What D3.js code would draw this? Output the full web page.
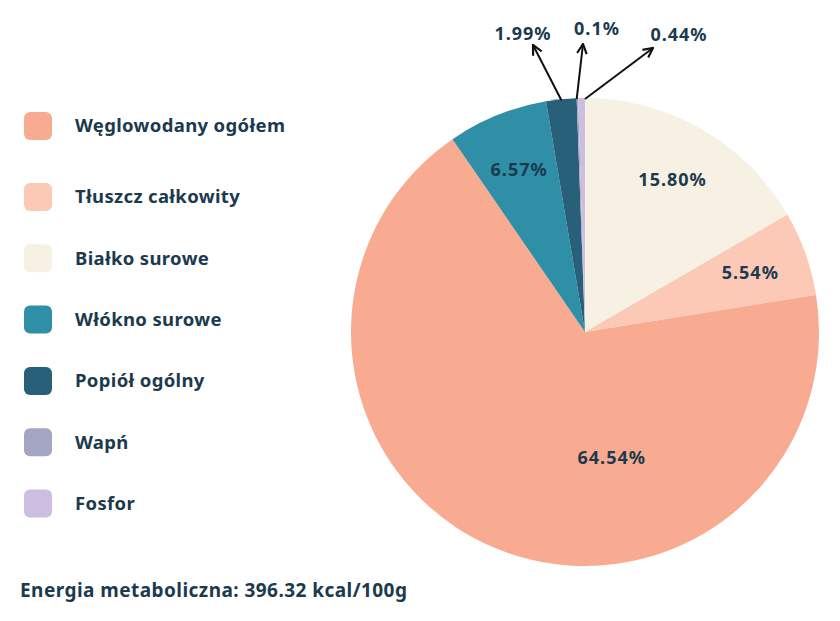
<!DOCTYPE html>
<html>
<head>
<meta charset="utf-8">
<script src="https://cdn.jsdelivr.net/npm/d3@7"></script>
<style>
  html, body { margin: 0; padding: 0; background: #fff; }
  svg { display: block; font-family: "Noto Sans", "Open Sans", sans-serif; }
</style>
</head>
<body>
<script>
// data
const categories = ["Białko surowe", "Tłuszcz całkowity", "Węglowodany ogółem", "Włókno surowe", "Popiół ogólny", "Wapń", "Fosfor"];
const values = [15.80, 5.54, 64.54, 6.57, 1.99, 0.1, 0.44];
const labels = ["15.80%", "5.54%", "64.54%", "6.57%", "1.99%", "0.1%", "0.44%"];
const colors = ["#F6F1E2", "#FCC9B6", "#F9AB91", "#2E8FA6", "#285F79", "#A3A5C3", "#CDBDE0"];
const legendOrder = ["Węglowodany ogółem", "Tłuszcz całkowity", "Białko surowe", "Włókno surowe", "Popiół ogólny", "Wapń", "Fosfor"];
const footer = "Energia metaboliczna: 396.32 kcal/100g";

const W = 840, H = 621;
const textColor = "#1B3A4E";
const svg = d3.select("body").append("svg").attr("width", W).attr("height", H);

svg.append("defs").append("marker")
    .attr("id", "arrow")
    .attr("viewBox", "0 0 10 10")
    .attr("refX", 9).attr("refY", 5)
    .attr("markerWidth", 6).attr("markerHeight", 6)
    .attr("orient", "auto")
  .append("path")
    .attr("d", "M1,1 L9,5 L1,9")
    .attr("fill", "none")
    .attr("stroke", "#111")
    .attr("stroke-width", 1.8);

// pie
const cx = 585, cy = 332, r = 234;
const data = categories.map((c, i) => ({ name: c, value: values[i], label: labels[i], color: colors[i] }));
const pie = d3.pie().value(d => d.value).sort(null);
const arc = d3.arc().innerRadius(0).outerRadius(r);
const arcs = pie(data);

const g = svg.append("g").attr("transform", `translate(${cx},${cy})`);
g.selectAll("path").data(arcs).enter()
  .append("path")
    .attr("d", arc)
    .attr("fill", d => d.data.color);

// inside labels
const labelStyle = sel => sel
    .attr("text-anchor", "middle")
    .attr("fill", textColor)
    .style("font-size", "18px")
    .style("font-weight", "bold")
    .style("letter-spacing", "1px");

const inner = arcs.filter(d => d.data.value > 5);
const labelPos = d => {
  let a = (d.startAngle + d.endAngle) / 2, rr = r * 0.75;
  if (d.data.value > 50) { a = 168 * Math.PI / 180; rr = r * 0.55; }
  return [Math.sin(a) * rr, -Math.cos(a) * rr];
};
g.selectAll("text.in").data(inner).enter()
  .append("text")
    .attr("class", "in")
    .attr("x", d => labelPos(d)[0])
    .attr("y", d => labelPos(d)[1])
    .attr("dy", "0.35em")
    .call(labelStyle)
    .text(d => d.data.label);

// outside labels with arrows
const outer = arcs.filter(d => d.data.value < 5);
const outerTarget = [[-52, -287], [-2, -288], [68, -284]];
const outerText = [[-62, -298], [12, -303], [94, -297]];
outer.forEach((d, i) => {
  const a = i === 0 ? (d.startAngle + d.endAngle) / 2 : (i === 1 ? d.startAngle : d.endAngle);
  const sx = Math.sin(a) * (r - 1), sy = -Math.cos(a) * (r - 1);
  g.append("line")
    .attr("x1", sx).attr("y1", sy)
    .attr("x2", outerTarget[i][0]).attr("y2", outerTarget[i][1])
    .attr("stroke", "#111")
    .attr("stroke-width", 2)
    .attr("marker-end", "url(#arrow)");
  g.append("text")
    .attr("x", outerText[i][0]).attr("y", outerText[i][1])
    .attr("dy", "0.35em")
    .call(labelStyle)
    .text(d.data.label);
});

// legend
const colorOf = d3.scaleOrdinal().domain(categories).range(colors);
const legendY = i => i === 0 ? 126 : 197 + (i - 1) * 61.3;
const legend = svg.append("g").attr("class", "legend")
  .selectAll("g").data(legendOrder).enter()
  .append("g")
    .attr("transform", (d, i) => `translate(24, ${legendY(i)})`);
legend.append("rect")
    .attr("x", 0).attr("y", -14)
    .attr("width", 28).attr("height", 28)
    .attr("rx", 6)
    .attr("fill", d => colorOf(d));
legend.append("text")
    .attr("x", 51).attr("y", 0)
    .attr("dy", "0.35em")
    .attr("fill", textColor)
    .style("font-size", "18.5px")
    .style("font-weight", "bold")
    .style("letter-spacing", "0.35px")
    .text(d => d);

// footer
svg.append("text")
    .attr("x", 20).attr("y", 590)
    .attr("dy", "0.35em")
    .attr("fill", textColor)
    .style("font-size", "19px")
    .style("font-weight", "bold")
    .style("letter-spacing", "0.45px")
    .text(footer);
</script>
</body>
</html>
